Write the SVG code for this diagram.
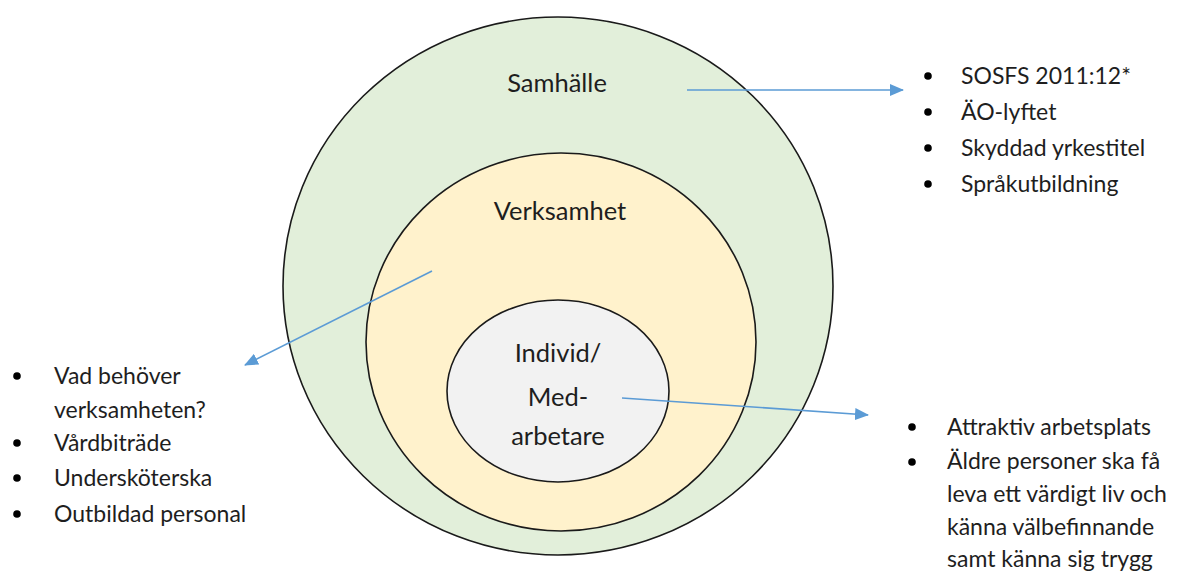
<svg xmlns="http://www.w3.org/2000/svg" width="1181" height="574" viewBox="0 0 1181 574">
<style>
.ring{stroke:#1a1a1a;stroke-width:1.6}
.lbl{font-family:Lato,"Liberation Sans",sans-serif;font-size:23px;fill:#1e1e1e}
.big{font-size:25.5px}
.c{text-anchor:middle}
.bul{fill:#000}
.arr{stroke:#5b9bd5;stroke-width:1.6;fill:none;marker-end:url(#ah)}
</style>
<defs>
<marker id="ah" markerWidth="14" markerHeight="12" refX="13" refY="6" orient="auto" markerUnits="userSpaceOnUse">
<path d="M0,0 L14,6 L0,12 Z" fill="#5b9bd5"/>
</marker>
</defs>
<rect width="1181" height="574" fill="#fff"/>
<g id="samhalle">
<ellipse class="ring" cx="558" cy="286" rx="275" ry="269" fill="#e2efda"/>
<text class="lbl big c" x="557" y="92">Samhälle</text>
</g>
<g id="verksamhet">
<ellipse class="ring" cx="561" cy="342" rx="195" ry="189" fill="#fff2cc"/>
<text class="lbl big c" x="560" y="220">Verksamhet</text>
</g>
<g id="individ">
<ellipse class="ring" cx="558" cy="391" rx="111" ry="91" fill="#f2f2f2"/>
<text class="lbl big c" x="558" y="362">Individ/</text>
<text class="lbl big c" x="558" y="406">Med-</text>
<text class="lbl big c" x="558" y="445">arbetare</text>
</g>
<g id="list-samhalle">
<circle class="bul" cx="928" cy="76" r="3.8"/>
<circle class="bul" cx="928" cy="112" r="3.8"/>
<circle class="bul" cx="928" cy="148" r="3.8"/>
<circle class="bul" cx="928" cy="184" r="3.8"/>
<text class="lbl" x="961" y="84">SOSFS 2011:12*</text>
<text class="lbl" x="961" y="120">ÄO-lyftet</text>
<text class="lbl" x="961" y="156">Skyddad yrkestitel</text>
<text class="lbl" x="961" y="192">Språkutbildning</text>
</g>
<g id="list-verksamhet">
<circle class="bul" cx="17" cy="376" r="3.8"/>
<circle class="bul" cx="17" cy="443" r="3.8"/>
<circle class="bul" cx="17" cy="478" r="3.8"/>
<circle class="bul" cx="17" cy="514" r="3.8"/>
<text class="lbl" x="54" y="384">Vad behöver</text>
<text class="lbl" x="54" y="418">verksamheten?</text>
<text class="lbl" x="54" y="451">Vårdbiträde</text>
<text class="lbl" x="54" y="486">Undersköterska</text>
<text class="lbl" x="54" y="522">Outbildad personal</text>
</g>
<g id="list-individ">
<circle class="bul" cx="912" cy="427" r="3.8"/>
<circle class="bul" cx="912" cy="462" r="3.8"/>
<text class="lbl" x="947" y="435">Attraktiv arbetsplats</text>
<text class="lbl" x="947" y="469">Äldre personer ska få</text>
<text class="lbl" x="947" y="502">leva ett värdigt liv och</text>
<text class="lbl" x="947" y="535">känna välbefinnande</text>
<text class="lbl" x="947" y="567">samt känna sig trygg</text>
</g>
<g id="connectors">
<line class="arr" x1="687" y1="90" x2="903" y2="90"/>
<line class="arr" x1="432" y1="271" x2="245" y2="365"/>
<line class="arr" x1="622" y1="398" x2="868" y2="415"/>
</g>
</svg>
